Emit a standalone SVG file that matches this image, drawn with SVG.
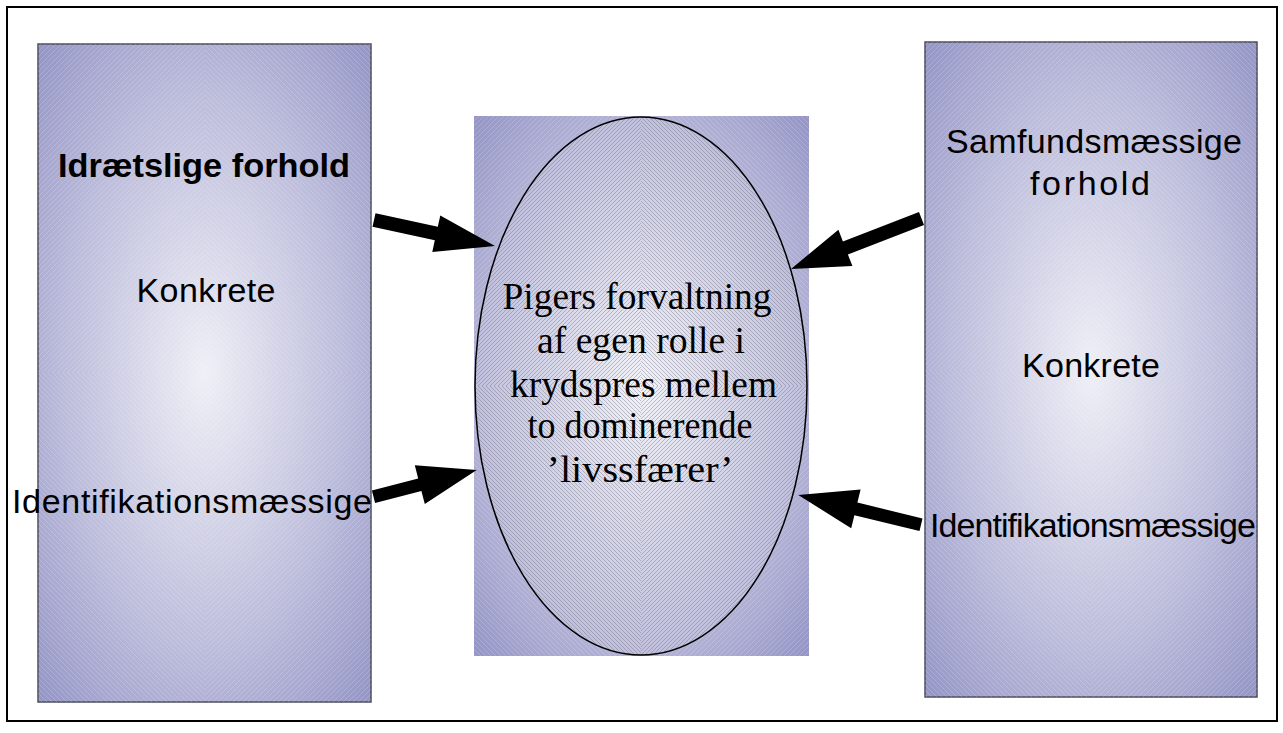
<svg xmlns="http://www.w3.org/2000/svg" width="1283" height="733" viewBox="0 0 1283 733">
  <style>
    .box { stroke: #4d4d5c; stroke-width: 1.5; }
    .sans { font-family: "Liberation Sans", Arial, sans-serif; font-size: 34px; fill: #000; }
    .serif { font-family: "Liberation Serif", "Times New Roman", serif; font-size: 38px; fill: #000; }
    .arrow { fill: #000; }
  </style>
  <defs>
    <radialGradient id="panelFill" cx="0.5" cy="0.5" r="0.72">
      <stop offset="0" stop-color="#efeff6"/>
      <stop offset="0.55" stop-color="#bfbfdd"/>
      <stop offset="1" stop-color="#9393c5"/>
    </radialGradient>
    <radialGradient id="ovalFill" cx="0.5" cy="0.5" r="0.6">
      <stop offset="0" stop-color="#f2f2f8"/>
      <stop offset="1" stop-color="#b6b6d8"/>
    </radialGradient>
    <!-- fine hatching used for the chevron texture -->
    <pattern id="hatchUp" patternUnits="userSpaceOnUse" width="4" height="4">
      <path d="M0,4 L4,0 M-1,1 L1,-1 M3,5 L5,3" stroke="#6e6e80" stroke-width="0.7" opacity="0.6"/>
    </pattern>
    <pattern id="hatchDown" patternUnits="userSpaceOnUse" width="4" height="4">
      <path d="M0,0 L4,4 M-1,3 L1,5 M3,-1 L5,1" stroke="#6e6e80" stroke-width="0.7" opacity="0.6"/>
    </pattern>
    <pattern id="sheenUp" patternUnits="userSpaceOnUse" width="5" height="5">
      <path d="M0,5 L5,0 M-1,1 L1,-1 M4,6 L6,4" stroke="#ffffff" stroke-width="0.6" opacity="0.3"/>
    </pattern>
    <pattern id="sheenDown" patternUnits="userSpaceOnUse" width="5" height="5">
      <path d="M0,0 L5,5 M-1,4 L1,6 M4,-1 L6,1" stroke="#ffffff" stroke-width="0.6" opacity="0.3"/>
    </pattern>
    <clipPath id="ovalClip">
      <ellipse cx="641" cy="386" rx="166" ry="269"/>
    </clipPath>
  </defs>

  <!-- frame -->
  <rect x="7" y="7" width="1270" height="714" fill="#ffffff" stroke="#000" stroke-width="2"/>

  <!-- left panel -->
  <g id="node-idraet">
    <rect class="box" x="38" y="44" width="333" height="658" fill="url(#panelFill)"/>
    <rect x="38" y="44" width="166.5" height="329" fill="url(#sheenUp)"/>
    <rect x="204.5" y="44" width="166.5" height="329" fill="url(#sheenDown)"/>
    <rect x="38" y="373" width="166.5" height="329" fill="url(#sheenDown)"/>
    <rect x="204.5" y="373" width="166.5" height="329" fill="url(#sheenUp)"/>
    <text class="sans" x="204" y="177" text-anchor="middle" font-weight="bold" textLength="292" lengthAdjust="spacingAndGlyphs">Idrætslige forhold</text>
    <text class="sans" x="206" y="302" text-anchor="middle" textLength="139" lengthAdjust="spacing">Konkrete</text>
    <text class="sans" x="12" y="513" textLength="360" lengthAdjust="spacing">Identifikationsmæssige</text>
  </g>

  <!-- central panel with oval -->
  <g id="node-pigers">
    <rect x="474" y="116" width="335" height="540" fill="url(#panelFill)"/>
    <rect x="474" y="116" width="167" height="270" fill="url(#sheenUp)"/>
    <rect x="641" y="116" width="168" height="270" fill="url(#sheenDown)"/>
    <rect x="474" y="386" width="167" height="270" fill="url(#sheenDown)"/>
    <rect x="641" y="386" width="168" height="270" fill="url(#sheenUp)"/>
    <ellipse cx="641" cy="386" rx="166" ry="269" fill="url(#ovalFill)"/>
    <g clip-path="url(#ovalClip)">
      <rect x="474" y="116" width="167" height="270" fill="url(#hatchUp)"/>
      <rect x="641" y="116" width="168" height="270" fill="url(#hatchDown)"/>
      <rect x="474" y="386" width="167" height="270" fill="url(#hatchDown)"/>
      <rect x="641" y="386" width="168" height="270" fill="url(#hatchUp)"/>
    </g>
    <ellipse cx="641" cy="386" rx="166" ry="269" fill="none" stroke="#000" stroke-width="1.5"/>
    <text class="serif" x="637" y="309" text-anchor="middle" textLength="269" lengthAdjust="spacingAndGlyphs">Pigers forvaltning</text>
    <text class="serif" x="641" y="353" text-anchor="middle" textLength="208" lengthAdjust="spacingAndGlyphs">af egen rolle i</text>
    <text class="serif" x="643.5" y="397" text-anchor="middle" textLength="267" lengthAdjust="spacingAndGlyphs">krydspres mellem</text>
    <text class="serif" x="640" y="438" text-anchor="middle" textLength="225" lengthAdjust="spacingAndGlyphs">to dominerende</text>
    <text class="serif" x="640" y="482" text-anchor="middle" textLength="187" lengthAdjust="spacingAndGlyphs">’livssfærer’</text>
  </g>

  <!-- right panel -->
  <g id="node-samfund">
    <rect class="box" x="925" y="42" width="332" height="655" fill="url(#panelFill)"/>
    <rect x="925" y="42" width="166" height="327.5" fill="url(#sheenUp)"/>
    <rect x="1091" y="42" width="166" height="327.5" fill="url(#sheenDown)"/>
    <rect x="925" y="369.5" width="166" height="327.5" fill="url(#sheenDown)"/>
    <rect x="1091" y="369.5" width="166" height="327.5" fill="url(#sheenUp)"/>
    <text class="sans" x="1094" y="153" text-anchor="middle" textLength="296" lengthAdjust="spacing">Samfundsmæssige</text>
    <text class="sans" x="1090" y="195" text-anchor="middle" textLength="120" lengthAdjust="spacing">forhold</text>
    <text class="sans" x="1091" y="377" text-anchor="middle" textLength="138" lengthAdjust="spacing">Konkrete</text>
    <text class="sans" x="930" y="537" textLength="326" lengthAdjust="spacing">Identifikationsmæssige</text>
  </g>

  <!-- block arrows pointing into the oval -->
  <g id="connectors">
    <polygon class="arrow" points="375.5,213.2 437.8,226.7 440.3,215.4 495,246 432.3,252.1 434.8,240.3 372.5,226.8"/>
    <polygon class="arrow" points="919,212 842.9,241.4 838.4,229.7 791,269 852.4,266.1 847.9,254.4 924,225"/>
    <polygon class="arrow" points="371.9,490.4 418.2,478.4 414.8,465.3 476.7,470 424.8,504.1 421.4,491 375.1,503"/>
    <polygon class="arrow" points="922.5,518.4 857.4,502.6 860.6,489.5 798.3,495 851.2,528.3 854.4,515.2 919.5,531"/>
  </g>
</svg>
